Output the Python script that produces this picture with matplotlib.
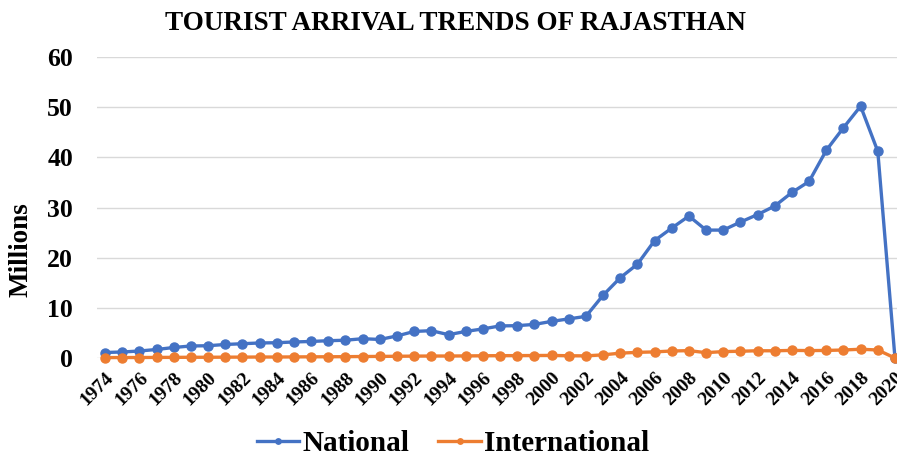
import numpy as np
import matplotlib.pyplot as plt

years = np.arange(1974, 2021)

# tourist arrivals in millions
national = [1.1, 1.2, 1.4, 1.7, 2.1, 2.4, 2.45, 2.7, 2.85, 3.0, 3.05, 3.2, 3.3, 3.45, 3.55,
            3.85, 3.7, 4.4, 5.3, 5.45, 4.65, 5.3, 5.8, 6.4, 6.45, 6.7, 7.3, 7.8, 8.3,
            12.5, 16.0, 18.7, 23.4, 25.9, 28.3, 25.5, 25.5, 27.1, 28.6, 30.3, 33.0, 35.2,
            41.4, 45.9, 50.2, 41.2, 0.0]
international = [0.08, 0.1, 0.1, 0.12, 0.13, 0.15, 0.15, 0.17, 0.18, 0.2, 0.2, 0.22, 0.24, 0.25, 0.27,
                 0.3, 0.32, 0.35, 0.38, 0.4, 0.4, 0.42, 0.45, 0.47, 0.48, 0.5, 0.52, 0.45, 0.43,
                 0.63, 0.97, 1.13, 1.22, 1.4, 1.47, 1.07, 1.28, 1.35, 1.45, 1.44, 1.52, 1.48,
                 1.51, 1.6, 1.75, 1.6, 0.0]

plt.rcParams['font.family'] = ['Liberation Serif', 'DejaVu Serif']
plt.rcParams['font.weight'] = 'bold'

fig = plt.figure(figsize=(8.97, 4.58), dpi=100)
ax = fig.add_axes([0.1076, 0.2183, 0.8997, 0.6572])

ax.plot(years, national, color='#4472C4', lw=2.4, marker='o', ms=6.5,
        label='National', clip_on=False, zorder=3)
ax.plot(years, international, color='#ED7D31', lw=2.4, marker='o', ms=6.5,
        label='International', clip_on=False, zorder=3)

ax.set_xlim(1973.5, 2020.5)
ax.set_ylim(0, 60)
ax.set_yticks(range(0, 61, 10))
ax.set_xticks(years[::2])
ax.set_xticklabels([str(y) for y in years[::2]], rotation=45, ha='right',
                   va='top', rotation_mode='anchor', fontsize=14, fontweight='bold')
ax.tick_params(axis='y', labelsize=18.5, length=0, pad=17)
ax.tick_params(axis='x', length=0, pad=8)
for lab in ax.get_yticklabels():
    lab.set_fontweight('bold')

ax.grid(axis='y', color='#D9D9D9', lw=1)
ax.set_axisbelow(True)
for s in ax.spines.values():
    s.set_visible(False)

ax.set_ylabel('Millions', fontsize=19.5, fontweight='bold')
ax.yaxis.set_label_coords(-0.078, 0.359)

fig.suptitle('TOURIST ARRIVAL TRENDS OF RAJASTHAN', x=0.508, y=0.975,
             fontsize=19.5, fontweight='bold')

fig.legend(loc='center', bbox_to_anchor=(0.505, 0.032), ncol=2,
           frameon=False, prop={'size': 21, 'weight': 'bold'},
           handlelength=1.45, handletextpad=0.1, columnspacing=1.0,
           markerscale=0.6, borderpad=0)

fig.savefig('out.png', dpi=100)
